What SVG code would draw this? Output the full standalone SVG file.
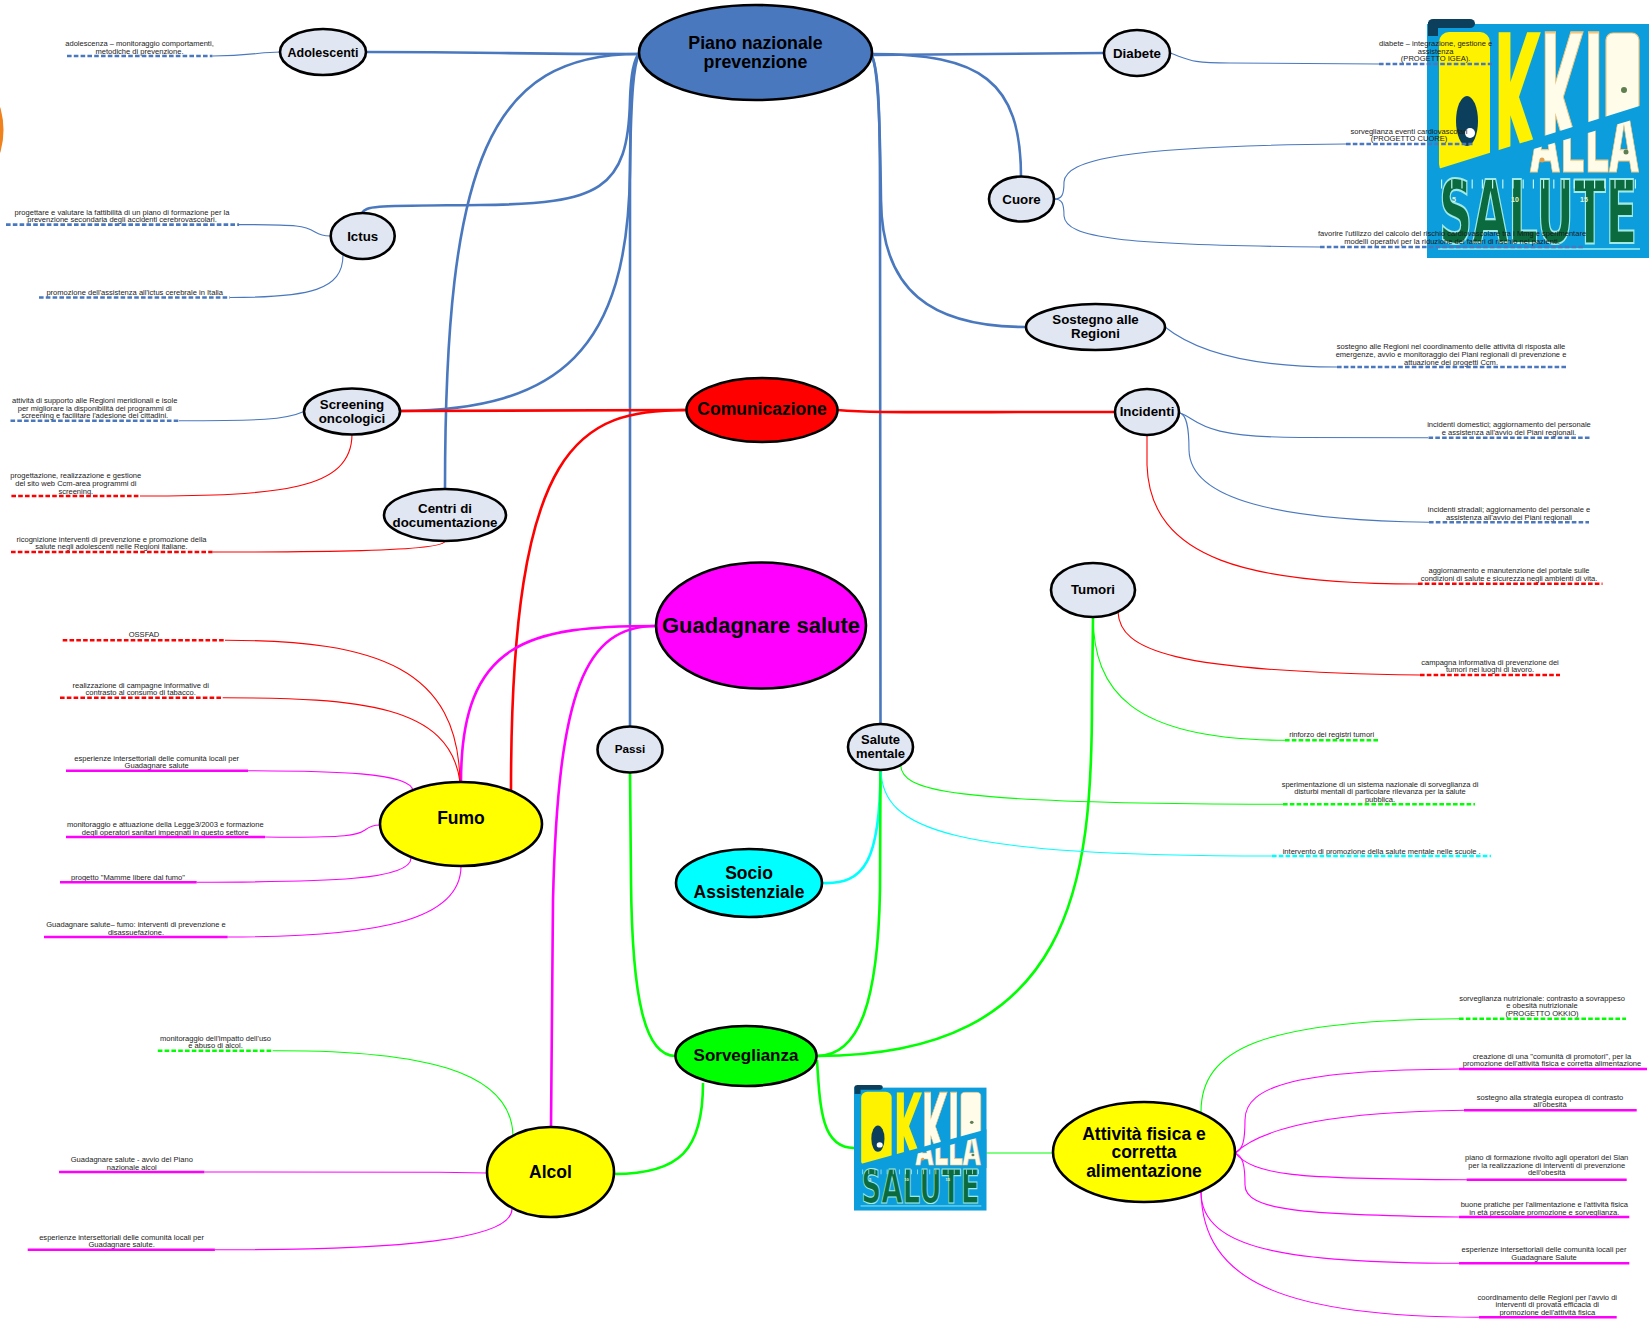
<svg xmlns="http://www.w3.org/2000/svg" width="1651" height="1326" viewBox="0 0 1651 1326">
<style>
text{font-family:"Liberation Sans",Arial,sans-serif}
.l{font-size:7.55px;fill:#1a1a1a;text-anchor:middle}
.n{font-weight:700;fill:#000;text-anchor:middle}
.e{stroke:#000;stroke-width:2.6}
.sub{fill:#e0e7f3}
.c,.t{fill:none}
.c{stroke-width:2.6}
.t{stroke-width:1.1}
.blue{stroke:#4a78be}.red{stroke:#f00}.mag{stroke:#f0f}.grn{stroke:#0f0}.cy{stroke:#0ff}
.u{stroke-width:2.6;fill:none}
.da{stroke-dasharray:4.6 2.2}
.dj{font-family:"DejaVu Sans",sans-serif;font-weight:700}
</style>
<defs>
<clipPath id="allaClip"><polygon points="100,132 215,98 215,156 100,156"/></clipPath>
<symbol id="logo" viewBox="0 0 222 239" preserveAspectRatio="none">
<rect x="0" y="5" width="222" height="234" fill="#0c9edc"/>
<rect x="1" y="0" width="47" height="9" rx="5" fill="#0b3f5c"/>
<rect x="1" y="3" width="10" height="14" fill="#0b3f5c"/>
<rect x="12" y="13" width="51" height="142" rx="10" fill="#fff200"/>
<text class="dj" transform="translate(14,140) scale(.55,1.7)" font-size="100" fill="#fff200">O</text>
<text class="dj" transform="translate(66,150) scale(.62,1.88)" font-size="100" fill="#fff200">K</text>
<text class="dj" transform="translate(113,150) scale(.558,1.88)" font-size="100" fill="#fffdea" stroke="#f3c57c" stroke-width="1.2">KI</text>
<rect x="179" y="14" width="33" height="95" rx="7" fill="#fffdea" stroke="#f3c57c" stroke-width="1.2"/>
<text class="dj" transform="translate(181,80) scale(.33,.85)" font-size="100" fill="#fffdea">O</text>
<circle cx="197" cy="71" r="3" fill="#5f7f50"/>
<polygon points="8,151 222,84 222,158 8,158" fill="#0c9edc"/>
<ellipse cx="40" cy="102" rx="11" ry="25" fill="#0b3f5c"/>
<circle cx="43" cy="114" r="5" fill="#fff"/>
<g clip-path="url(#allaClip)"><text class="dj" transform="translate(103,153) scale(.386,.83)" font-size="100" fill="#fffdea" stroke="#f3c57c" stroke-width="1.5">ALLA</text></g>
<circle cx="115" cy="141" r="2.5" fill="#e0a050"/>
<circle cx="199" cy="133" r="2.5" fill="#5f7f50"/>
<text class="dj" transform="translate(12,224) scale(.464,.878)" font-size="100" fill="#0b6b3f" stroke="#9fe9e6" stroke-width="2.4">SALUTE</text>
<line x1="14" y1="165" x2="212" y2="165" stroke="#bff3f0" stroke-width="9" stroke-dasharray="1.2 9"/>
<text x="27" y="183" font-size="7" font-weight="700" fill="#e6f5d0" text-anchor="middle">5</text>
<text x="88" y="183" font-size="7" font-weight="700" fill="#e6f5d0" text-anchor="middle">10</text>
<text x="157" y="183" font-size="7" font-weight="700" fill="#e6f5d0" text-anchor="middle">15</text>
<line x1="11" y1="230" x2="213" y2="230" stroke="#9fefef" stroke-width="1.6"/>
</symbol>
</defs>
<rect width="1651" height="1326" fill="#fff"/>
<ellipse cx="-30" cy="130" rx="33.5" ry="52" fill="#f0821e"/>
<g id="logo-big"><use href="#logo" x="1427" y="19" width="222" height="239"/></g>

<g id="connectors">
<path class="c blue" d="M366 52C500 52 500 54 639 54"/>
<path class="c blue" d="M445 489C445 160 490 54 639 54"/>
<path class="c blue" d="M362 213C366 205 380 206 480 205C600 204 628 190 630 100C631 70 635 58 639 54"/>
<path class="c blue" d="M401 411C560 410 628 350 630 170C631 90 634 65 639 54"/>
<path class="c blue" d="M639 54C631 65 630 100 630 200L630 727"/>
<path class="c blue" d="M872 55L1104 53"/>
<path class="c blue" d="M872 54C980 54 1021 80 1021 177"/>
<path class="c blue" d="M872 56C878 70 880 120 881 200C882 290 930 327 1026 327"/>
<path class="c blue" d="M872 56C878 70 880 100 880 200L880.5 724"/>
<path class="c red" d="M687 410L401 411"/>
<path class="c red" d="M837.5 410C870 413 900 412 1115 412"/>
<path class="c red" d="M687 410C580 410 511 440 511 790"/>
<path class="c mag" d="M656 626C530 626 461 640 461 782"/>
<path class="c mag" d="M656 626C585 626 558 690 553 900L551 1127"/>
<path class="c grn" d="M630 772L631 880C632 1000 645 1056 675.5 1056"/>
<path class="c cy" d="M822 883C865 885 880 860 880.5 771"/>
<path class="c grn" d="M880.5 770L880 890C878 1000 860 1056 817 1056"/>
<path class="c grn" d="M1093 617L1092 700C1092 880 1075 1056 817 1056"/>
<path class="c grn" d="M614 1174C680 1174 703 1150 703 1083"/>
<path class="c grn" d="M817 1060C820 1110 822 1148 854 1148"/>
<path class="t grn" d="M986.5 1153L1053 1153"/>

<path class="t blue" d="M212.5 56C250 56 260 52 280 52"/>
<path class="t blue" d="M239 224.6C300 224.6 305 226 315 232C320 235 325 236 330 236"/>
<path class="t blue" d="M230 297.5C310 297.5 343 290 343 255"/>
<path class="t blue" d="M179 420.7C260 420.7 285 420 304 411.5"/>
<path class="t red" d="M140 496C280 496 352 490 352 434"/>
<path class="t red" d="M212.5 552C300 552 445 552 445 541"/>
<path class="t blue" d="M1170 53C1190 60 1190 63 1230 63L1379 64"/>
<path class="t blue" d="M1054 199C1062 199 1064 195 1064 182C1066 160 1120 146 1346 144"/>
<path class="t blue" d="M1054 199C1062 199 1064 203 1064 216C1066 238 1120 245 1320 247"/>
<path class="t blue" d="M1165 327C1200 355 1260 367 1337 367"/>
<path class="t blue" d="M1180 413C1200 420 1195 437 1300 437.5L1428 437.7"/>
<path class="t blue" d="M1180 413C1186 415 1189 425 1189 450C1190 500 1280 520 1429 522.3"/>
<path class="t red" d="M1147 435L1147 465C1150 560 1250 584 1418 584"/>
<path class="t red" d="M1118 612C1120 650 1170 672 1420 675"/>
<path class="t grn" d="M1093 617C1094 690 1130 740 1285 740.3"/>
<path class="t grn" d="M900.6 765C902 790 940 804 1283 804.3"/>
<path class="t cy" d="M881 770C882 830 950 856 1272 856"/>
<path class="t red" d="M225 640.3C380 640 458 670 460 782"/>
<path class="t red" d="M222.7 697.7C360 698 450 705 460 782"/>
<path class="t mag" d="M248 770.7C330 771 412 772 413 791"/>
<path class="t mag" d="M265 837C350 838 358 835 365 830C370 826 374 825 380 825"/>
<path class="t mag" d="M196.7 882.3C330 882 411 880 411 858"/>
<path class="t mag" d="M227.7 937C380 937 461 920 461 866"/>
<path class="t grn" d="M272.6 1050.7C420 1050 512 1070 513 1136"/>
<path class="t mag" d="M204.4 1172L440 1172.3L487 1173"/>
<path class="t mag" d="M214.9 1249.7C400 1250 512 1240 512 1209"/>
<path class="t grn" d="M1201 1112C1201 1050 1260 1020 1459 1018.7"/>
<path class="t mag" d="M1235 1153C1243 1150 1245 1140 1245 1120C1245 1085 1300 1070 1459 1069"/>
<path class="t mag" d="M1235 1153C1265 1125 1340 1112 1464 1110.3"/>
<path class="t mag" d="M1235 1153C1255 1175 1290 1179 1467 1179.7"/>
<path class="t mag" d="M1235 1153C1243 1156 1245 1165 1245 1185C1245 1210 1300 1215 1459 1217"/>
<path class="t mag" d="M1201 1192C1201 1250 1290 1263 1459 1263.3"/>
<path class="t mag" d="M1201 1192C1203 1280 1280 1317 1479 1317.3"/>
</g>

<g id="node-piano"><ellipse class="e" cx="755.5" cy="52.5" rx="116.5" ry="47.5" fill="#4a78be"/><text class="n" font-size="17.8" x="755.5" y="49">Piano nazionale</text><text class="n" font-size="17.8" x="755.5" y="68">prevenzione</text></g>
<g id="node-adolescenti"><ellipse class="e sub" cx="323" cy="52" rx="43" ry="23"/><text class="n" font-size="12.5" x="323" y="56.5">Adolescenti</text></g>
<g id="node-ictus"><ellipse class="e sub" cx="362.7" cy="236" rx="32" ry="23"/><text class="n" font-size="13.3" x="362.7" y="240.5">Ictus</text></g>
<g id="node-screening"><ellipse class="e sub" cx="352" cy="411.5" rx="48" ry="23"/><text class="n" font-size="13.3" x="352" y="408.5">Screening</text><text class="n" font-size="13.3" x="352" y="423">oncologici</text></g>
<g id="node-centri"><ellipse class="e sub" cx="445" cy="515" rx="61" ry="26"/><text class="n" font-size="13.3" x="445" y="512.5">Centri di</text><text class="n" font-size="13.3" x="445" y="526.5">documentazione</text></g>
<g id="node-diabete"><ellipse class="e sub" cx="1137" cy="53" rx="33" ry="23"/><text class="n" font-size="13.3" x="1137" y="58">Diabete</text></g>
<g id="node-cuore"><ellipse class="e sub" cx="1021.5" cy="199" rx="32.5" ry="22.5"/><text class="n" font-size="13.3" x="1021.5" y="204">Cuore</text></g>
<g id="node-sostegno"><ellipse class="e sub" cx="1095.5" cy="327" rx="69.5" ry="23"/><text class="n" font-size="13.3" x="1095.5" y="324">Sostegno alle</text><text class="n" font-size="13.3" x="1095.5" y="338">Regioni</text></g>
<g id="node-comunicazione"><ellipse class="e" cx="762" cy="410" rx="75.5" ry="32" fill="#f00"/><text class="n" font-size="17.5" x="762" y="415">Comunicazione</text></g>
<g id="node-incidenti"><ellipse class="e sub" cx="1147" cy="412" rx="32" ry="23"/><text class="n" font-size="13.3" x="1147" y="416">Incidenti</text></g>
<g id="node-tumori"><ellipse class="e sub" cx="1093" cy="590" rx="42" ry="27"/><text class="n" font-size="13.3" x="1093" y="594">Tumori</text></g>
<g id="node-guadagnare"><ellipse class="e" cx="761" cy="625.5" rx="105" ry="63" fill="#f0f"/><text class="n" font-size="22" x="761" y="633">Guadagnare salute</text></g>
<g id="node-passi"><ellipse class="e sub" cx="630" cy="749.5" rx="32.5" ry="23"/><text class="n" font-size="11.7" x="630" y="753">Passi</text></g>
<g id="node-salute-mentale"><ellipse class="e sub" cx="880.5" cy="747" rx="32.5" ry="23"/><text class="n" font-size="13" x="880.5" y="744">Salute</text><text class="n" font-size="13" x="880.5" y="758">mentale</text></g>
<g id="node-socio"><ellipse class="e" cx="749" cy="883" rx="73" ry="34" fill="#0ff"/><text class="n" font-size="17.5" x="749" y="879">Socio</text><text class="n" font-size="17.5" x="749" y="898">Assistenziale</text></g>
<g id="node-fumo"><ellipse class="e" cx="461" cy="824" rx="81" ry="42" fill="#ff0"/><text class="n" font-size="17.5" x="461" y="824">Fumo</text></g>
<g id="node-sorveglianza"><ellipse class="e" cx="746" cy="1056" rx="70.5" ry="30" fill="#0f0"/><text class="n" font-size="17" x="746" y="1061">Sorveglianza</text></g>
<g id="node-alcol"><ellipse class="e" cx="550.5" cy="1172" rx="63.5" ry="45" fill="#ff0"/><text class="n" font-size="17.5" x="550.5" y="1178">Alcol</text></g>
<g id="node-attivita"><ellipse class="e" cx="1144" cy="1152" rx="91" ry="50" fill="#ff0"/><text class="n" font-size="17.5" x="1144" y="1140">Attività fisica e</text><text class="n" font-size="17.5" x="1144" y="1158">corretta</text><text class="n" font-size="17.5" x="1144" y="1176.5">alimentazione</text></g>
<g id="logo-small"><use href="#logo" x="854" y="1085" width="132.7" height="125.7"/></g>

<g id="leaf-a1"><text class="l" x="139.5" y="46">adolescenza – monitoraggio comportamenti,</text><text class="l" x="139.5" y="53.5">metodiche di prevenzione.</text><line class="u da blue" x1="67" y1="56" x2="212.5" y2="56"/></g>
<g id="leaf-a2"><text class="l" x="122" y="214.5">progettare e valutare la fattibilità di un piano di formazione per la</text><text class="l" x="122" y="222">prevenzione secondaria degli accidenti cerebrovascolari.</text><line class="u da blue" x1="6" y1="224.6" x2="239" y2="224.6"/></g>
<g id="leaf-a3"><text class="l" x="134.7" y="294.8">promozione dell'assistenza all'ictus cerebrale in Italia</text><line class="u da blue" x1="39" y1="297.5" x2="230" y2="297.5"/></g>
<g id="leaf-a4"><text class="l" x="94.7" y="402.6">attività di supporto alle Regioni meridionali e isole</text><text class="l" x="94.7" y="410.5">per migliorare la disponibilità dei programmi di</text><text class="l" x="94.7" y="418.4">screening e facilitare l'adesione dei cittadini.</text><line class="u da blue" x1="10.5" y1="420.7" x2="179" y2="420.7"/></g>
<g id="leaf-a5"><text class="l" x="75.8" y="477.6">progettazione, realizzazione e gestione</text><text class="l" x="75.8" y="485.5">del sito web Ccm-area programmi di</text><text class="l" x="75.8" y="493.7">screening.</text><line class="u da red" x1="11.4" y1="496" x2="140" y2="496"/></g>
<g id="leaf-a6"><text class="l" x="111.5" y="541.6">ricognizione interventi di prevenzione e promozione della</text><text class="l" x="111.5" y="549.4">salute negli adolescenti nelle Regioni italiane.</text><line class="u da red" x1="11" y1="552" x2="212.5" y2="552"/></g>
<g id="leaf-b1"><text class="l" x="1435.6" y="46.3">diabete – integrazione, gestione e</text><text class="l" x="1435.6" y="53.7">assistenza</text><text class="l" x="1435.6" y="61.3">(PROGETTO IGEA).</text><line class="u da blue" x1="1379" y1="64" x2="1492" y2="64"/></g>
<g id="leaf-b2"><text class="l" x="1409" y="133.7">sorveglianza eventi cardiovascolari</text><text class="l" x="1409" y="141.3">(PROGETTO CUORE)</text><line class="u da blue" x1="1346" y1="144" x2="1472.5" y2="144"/></g>
<g id="leaf-b3"><text class="l" x="1452" y="236.3">favorire l'utilizzo del calcolo del rischio cardiovascolare tra i Mmg e sperimentare</text><text class="l" x="1452" y="244.3">modelli operativi per la riduzione dei fattori di rischio nei pazienti.</text><line class="u da blue" x1="1320" y1="247" x2="1585" y2="247"/></g>
<g id="leaf-b4"><text class="l" x="1451" y="348.7">sostegno alle Regioni nel coordinamento delle attività di risposta alle</text><text class="l" x="1451" y="356.7">emergenze, avvio e monitoraggio dei Piani regionali di prevenzione e</text><text class="l" x="1451" y="364.7">attuazione dei progetti Ccm.</text><line class="u da blue" x1="1337" y1="367" x2="1566.6" y2="367"/></g>
<g id="leaf-b5"><text class="l" x="1509" y="426.7">incidenti domestici; aggiornamento del personale</text><text class="l" x="1509" y="434.7">e assistenza all'avvio dei Piani regionali.</text><line class="u da blue" x1="1428.5" y1="437.7" x2="1591" y2="437.7"/></g>
<g id="leaf-b6"><text class="l" x="1509" y="511.7">incidenti stradali; aggiornamento del personale e</text><text class="l" x="1509" y="519.7">assistenza all'avvio dei Piani regionali</text><line class="u da blue" x1="1429" y1="522.3" x2="1589" y2="522.3"/></g>
<g id="leaf-b7"><text class="l" x="1509" y="572.7">aggiornamento e manutenzione del portale sulle</text><text class="l" x="1509" y="580.7">condizioni di salute e sicurezza negli ambienti di vita.</text><line class="u da red" x1="1418" y1="583.7" x2="1602.5" y2="583.7"/></g>
<g id="leaf-c1"><text class="l" x="1490" y="664.7">campagna informativa di prevenzione dei</text><text class="l" x="1490" y="672.3">tumori nei luoghi di lavoro.</text><line class="u da red" x1="1420" y1="675" x2="1560" y2="675"/></g>
<g id="leaf-c2"><text class="l" x="1331.7" y="737.3">rinforzo dei registri tumori</text><line class="u da grn" x1="1285" y1="740.3" x2="1379" y2="740.3"/></g>
<g id="leaf-c3"><text class="l" x="1380" y="786.7">sperimentazione di un sistema nazionale di sorveglianza di</text><text class="l" x="1380" y="793.7">disturbi mentali di particolare rilevanza per la salute</text><text class="l" x="1380" y="801.7">pubblica.</text><line class="u da grn" x1="1283" y1="804.3" x2="1475" y2="804.3"/></g>
<g id="leaf-c4"><text class="l" x="1381.7" y="853.7">intervento di promozione della salute mentale nelle scuole .</text><line class="u da cy" x1="1272" y1="856" x2="1491" y2="856"/></g>
<g id="leaf-d1"><text class="l" x="144" y="637.3">OSSFAD</text><line class="u da red" x1="62.7" y1="640.3" x2="225" y2="640.3"/></g>
<g id="leaf-d2"><text class="l" x="140.7" y="687.7">realizzazione di campagne informative di</text><text class="l" x="140.7" y="694.7">contrasto al consumo di tabacco.</text><line class="u da red" x1="60" y1="697.7" x2="222.7" y2="697.7"/></g>
<g id="leaf-d3"><text class="l" x="156.7" y="760.7">esperienze intersettoriali delle comunità locali per</text><text class="l" x="156.7" y="768">Guadagnare salute</text><line class="u mag" x1="66" y1="770.7" x2="248" y2="770.7"/></g>
<g id="leaf-d4"><text class="l" x="165.3" y="826.7">monitoraggio e attuazione della Legge3/2003 e formazione</text><text class="l" x="165.3" y="834.7">degli operatori sanitari impegnati in questo settore</text><line class="u mag" x1="66" y1="837" x2="265" y2="837"/></g>
<g id="leaf-d5"><text class="l" x="128" y="879.7">progetto "Mamme libere dal fumo"</text><line class="u mag" x1="60" y1="882.3" x2="196.7" y2="882.3"/></g>
<g id="leaf-d6"><text class="l" x="136" y="926.7">Guadagnare salute– fumo: interventi di prevenzione e</text><text class="l" x="136" y="934.7">disassuefazione.</text><line class="u mag" x1="44" y1="937" x2="227.7" y2="937"/></g>
<g id="leaf-e1"><text class="l" x="215.5" y="1040.7">monitoraggio dell'impatto dell'uso</text><text class="l" x="215.5" y="1047.7">e abuso di alcol.</text><line class="u da grn" x1="157.8" y1="1050.7" x2="272.6" y2="1050.7"/></g>
<g id="leaf-e2"><text class="l" x="131.8" y="1161.7">Guadagnare salute - avvio del Piano</text><text class="l" x="131.8" y="1169.7">nazionale alcol</text><line class="u mag" x1="59" y1="1172" x2="204.4" y2="1172"/></g>
<g id="leaf-e3"><text class="l" x="121.6" y="1239.7">esperienze intersettoriali delle comunità locali per</text><text class="l" x="121.6" y="1247">Guadagnare salute.</text><line class="u mag" x1="27.7" y1="1249.7" x2="214.9" y2="1249.7"/></g>
<g id="leaf-f1"><text class="l" x="1542" y="1000.7">sorveglianza nutrizionale: contrasto a sovrappeso</text><text class="l" x="1542" y="1008.3">e obesità nutrizionale</text><text class="l" x="1542" y="1015.7">(PROGETTO OKKIO)</text><line class="u da grn" x1="1459" y1="1018.7" x2="1626" y2="1018.7"/></g>
<g id="leaf-f2"><text class="l" x="1552" y="1058.7">creazione di una "comunità di promotori", per la</text><text class="l" x="1552" y="1066">promozione dell'attività fisica e corretta alimentazione</text><line class="u mag" x1="1459" y1="1069" x2="1647" y2="1069"/></g>
<g id="leaf-f3"><text class="l" x="1550" y="1099.7">sostegno alla strategia europea di contrasto</text><text class="l" x="1550" y="1107.3">all'obesità</text><line class="u mag" x1="1464" y1="1110.3" x2="1636.7" y2="1110.3"/></g>
<g id="leaf-f4"><text class="l" x="1546.7" y="1159.7">piano di formazione rivolto agli operatori dei Sian</text><text class="l" x="1546.7" y="1167.7">per la realizzazione di interventi di prevenzione</text><text class="l" x="1546.7" y="1175">dell'obesità</text><line class="u mag" x1="1466.7" y1="1179.7" x2="1626.7" y2="1179.7"/></g>
<g id="leaf-f5"><text class="l" x="1544.3" y="1206.7">buone pratiche per l'alimentazione e l'attività fisica</text><text class="l" x="1544.3" y="1214.7">in età prescolare promozione e sorveglianza.</text><line class="u mag" x1="1459" y1="1217" x2="1629.3" y2="1217"/></g>
<g id="leaf-f6"><text class="l" x="1544" y="1252">esperienze intersettoriali delle comunità locali per</text><text class="l" x="1544" y="1259.7">Guadagnare Salute</text><line class="u mag" x1="1459" y1="1263.3" x2="1629.3" y2="1263.3"/></g>
<g id="leaf-f7"><text class="l" x="1547.3" y="1299.7">coordinamento delle Regioni per l'avvio di</text><text class="l" x="1547.3" y="1307">interventi di provata efficacia di</text><text class="l" x="1547.3" y="1314.7">promozione dell'attività fisica</text><line class="u mag" x1="1479" y1="1317.3" x2="1616.7" y2="1317.3"/></g>
</svg>
